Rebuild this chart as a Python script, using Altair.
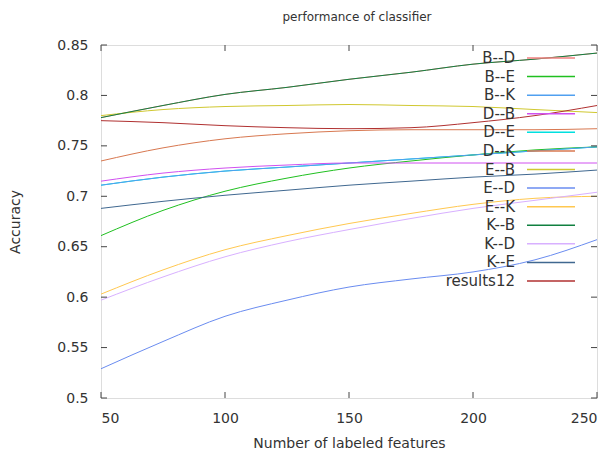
import altair as alt
import pandas as pd

features = [50, 75, 100, 125, 150, 175, 200, 225, 250]

series = ["B--D", "B--E", "B--K", "D--B", "D--E", "D--K", "E--B",
          "E--D", "E--K", "K--B", "K--D", "K--E", "results12"]
colors = ["#f08080", "#20c020", "#50a0f0", "#d050f0", "#00e0e0", "#d87850",
          "#d0c830", "#6a8cf0", "#ffc850", "#108040", "#d8b0ff", "#406890",
          "#b03030"]

acc_BD = [0.778, 0.790, 0.801, 0.808, 0.816, 0.823, 0.831, 0.836, 0.842]
acc_BE = [0.661, 0.686, 0.705, 0.718, 0.728, 0.735, 0.741, 0.746, 0.749]
acc_BK = [0.711, 0.719, 0.725, 0.729, 0.733, 0.737, 0.741, 0.745, 0.749]
acc_DB = [0.715, 0.723, 0.728, 0.731, 0.733, 0.733, 0.733, 0.733, 0.733]
acc_DE = [0.711, 0.719, 0.725, 0.729, 0.733, 0.737, 0.741, 0.745, 0.749]
acc_DK = [0.735, 0.748, 0.757, 0.762, 0.765, 0.766, 0.766, 0.766, 0.767]
acc_EB = [0.780, 0.786, 0.789, 0.790, 0.791, 0.790, 0.789, 0.786, 0.783]
acc_ED = [0.529, 0.556, 0.581, 0.597, 0.610, 0.618, 0.625, 0.637, 0.657]
acc_EK = [0.603, 0.627, 0.647, 0.661, 0.673, 0.683, 0.692, 0.698, 0.700]
acc_KB = [0.778, 0.790, 0.801, 0.808, 0.816, 0.823, 0.831, 0.836, 0.842]
acc_KD = [0.597, 0.620, 0.640, 0.655, 0.667, 0.678, 0.688, 0.696, 0.704]
acc_KE = [0.688, 0.695, 0.701, 0.706, 0.711, 0.715, 0.719, 0.722, 0.726]
acc_R12 = [0.775, 0.773, 0.770, 0.768, 0.767, 0.768, 0.773, 0.780, 0.790]

all_acc = [acc_BD, acc_BE, acc_BK, acc_DB, acc_DE, acc_DK, acc_EB,
           acc_ED, acc_EK, acc_KB, acc_KD, acc_KE, acc_R12]

x_ticks = [50, 100, 150, 200, 250]
y_ticks = [0.5, 0.55, 0.6, 0.65, 0.7, 0.75, 0.8, 0.85]

hidden = ["B--D", "D--E"]

rows = []
for s, vals in zip(series, all_acc):
    for f, v in zip(features, vals):
        rows.append({"series": s, "features": f, "accuracy": v,
                     "layer": 0 if s in hidden else 1})
df = pd.DataFrame(rows)

FONT = "DejaVu Sans"
TXT = "#333333"
W, H = 496, 353

color_scale = alt.Scale(domain=series, range=colors)
xs = alt.Scale(domain=[50, 250], nice=False, zero=False)
ys = alt.Scale(domain=[0.5, 0.85], nice=False, zero=False)

x_axis = alt.Axis(title="Number of labeled features", values=x_ticks, ticks=False,
                  domain=False, grid=False, labelPadding=13, titlePadding=11,
                  labelFontSize=14, titleFontSize=14, labelFont=FONT, titleFont=FONT,
                  labelColor=TXT, titleColor=TXT, titleFontWeight="normal")
y_axis = alt.Axis(title="Accuracy", values=y_ticks, format=".2~f", ticks=False,
                  domain=False, grid=False, labelPadding=13, titlePadding=34,
                  labelFontSize=14, titleFontSize=14, labelFont=FONT, titleFont=FONT,
                  labelColor=TXT, titleColor=TXT, titleFontWeight="normal")

X = alt.X("features:Q", scale=xs, axis=x_axis)
Y = alt.Y("accuracy:Q", scale=ys, axis=y_axis)

def lines(layer_id):
    return alt.Chart(df).transform_filter(alt.datum.layer == layer_id).mark_line(
        strokeWidth=1, interpolate="monotone").encode(
        x=X, y=Y,
        color=alt.Color("series:N", scale=color_scale, legend=None),
        detail="series:N",
    )

xt = pd.DataFrame({"features": x_ticks})
yt = pd.DataFrame({"accuracy": y_ticks})
tick_col = "#444444"
xb = alt.Chart(xt).mark_rule(color=tick_col).encode(x=X, y=alt.value(H), y2=alt.value(H - 6))
xtop = alt.Chart(xt).mark_rule(color=tick_col).encode(x=X, y=alt.value(0), y2=alt.value(6))
yl = alt.Chart(yt).mark_rule(color=tick_col).encode(y=Y, x=alt.value(0), x2=alt.value(6))
yr = alt.Chart(yt).mark_rule(color=tick_col).encode(y=Y, x=alt.value(W), x2=alt.value(W - 6))

plot = alt.layer(lines(0), lines(1), xb, xtop, yl, yr)

leg_df = pd.DataFrame({"series": series})
leg_y = alt.Y("series:N", scale=alt.Scale(type="point", domain=series, range=[13, 236],
                                           padding=0), axis=None)
leg_text = alt.Chart(leg_df).mark_text(align="right", baseline="middle", fontSize=15,
                                       font=FONT, color=TXT).encode(
    x=alt.value(414), y=leg_y, text="series:N")
leg_rule = alt.Chart(leg_df).mark_rule(strokeWidth=1.5).encode(
    x=alt.value(426), x2=alt.value(474), y=leg_y,
    color=alt.Color("series:N", scale=color_scale, legend=None))

legend = alt.layer(leg_text, leg_rule)

chart = alt.layer(plot, legend).resolve_scale(y="independent").properties(
    width=W, height=H,
    title=alt.TitleParams("performance of classifier", fontSize=12, font=FONT,
                          fontWeight="normal", color=TXT, offset=14, anchor="middle",
                          dx=8),
    autosize=alt.AutoSizeParams(type="none"),
    padding={"left": 93, "top": 37, "right": 8, "bottom": 52},
).configure_view(stroke="#444444", strokeWidth=1).configure(background="white")

chart.save("out.html", embed_options={"renderer": "svg", "actions": False})
